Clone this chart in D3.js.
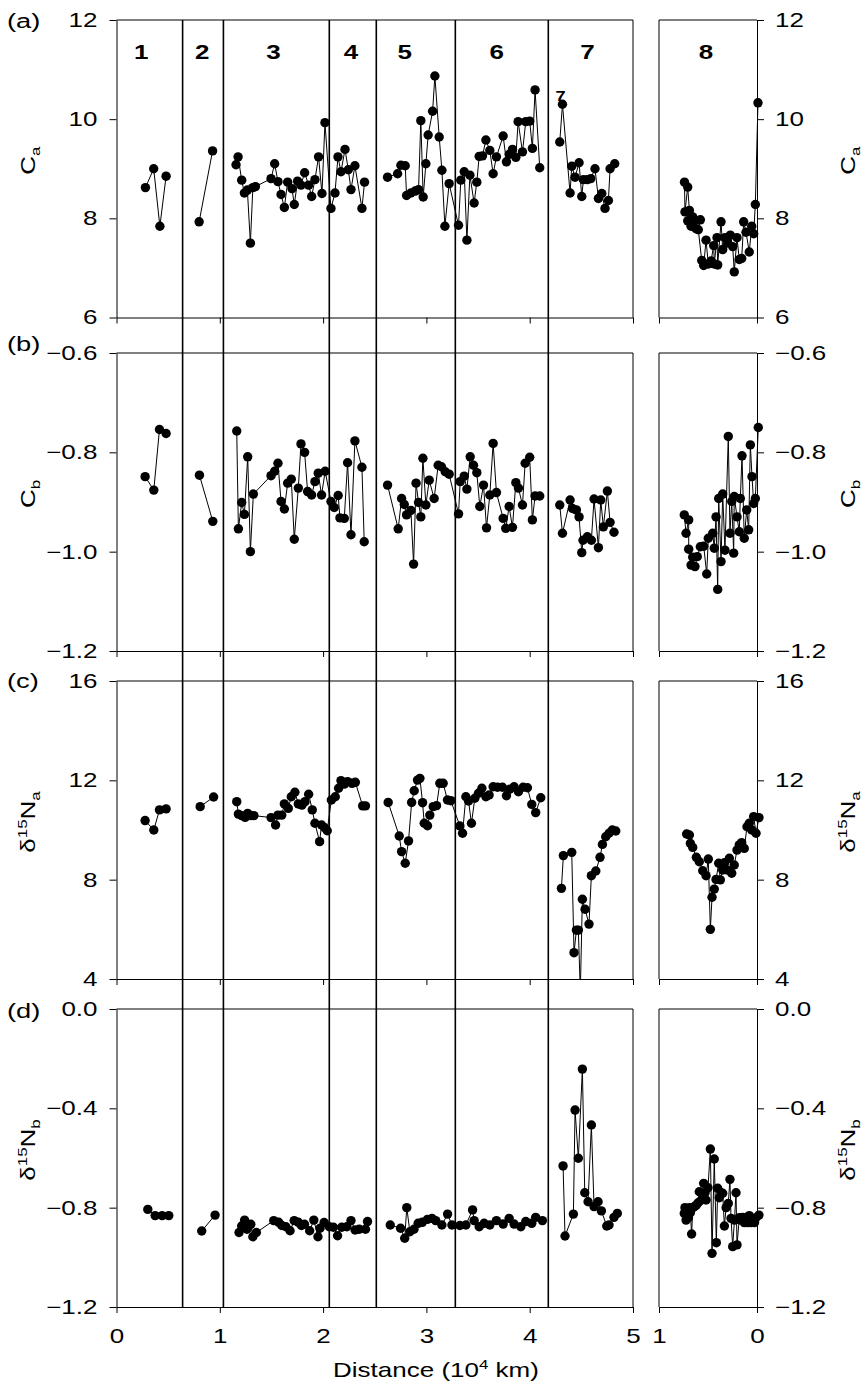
<!DOCTYPE html>
<html>
<head>
<meta charset="utf-8">
<script src="https://cdn.jsdelivr.net/npm/d3@7"></script>
<style>
  body { margin: 0; background: #fff; }
  text { font-family: "Liberation Sans", Arial, sans-serif; fill: #000; }
</style>
</head>
<body>
<div id="chart"></div>
<script>
/* DATA */

const xTicks = [0, 1, 2, 3, 4, 5];
const eastTicks = [1, 0];
// region boundaries along the transect (10^4 km)
const boundaries = [0.64, 1.035, 2.06, 2.515, 3.28, 4.18];
const regionNames = ["1", "2", "3", "4", "5", "6", "7"];
const regionLabelX = [0.24, 0.83, 1.52, 2.27, 2.79, 3.68, 4.56];
const eastRegionName = "8";
const eastRegionLabelX = 0.52;

const caTicks = [6, 8, 10, 12];
const cbTicks = [-1.2, -1.0, -0.8, -0.6];
const naTicks = [4, 8, 12, 16];
const nbTicks = [-1.2, -0.8, -0.4, 0.0];

// (a) Ca, one array per unbroken run of stations
const caRuns = [
  [[0.28, 8.62], [0.36, 9.00], [0.42, 7.84], [0.48, 8.85]],
  [[0.80, 7.93], [0.93, 9.36]],
  [[1.157, 9.08], [1.177, 9.24], [1.212, 8.77], [1.238, 8.51], [1.267, 8.57], [1.296, 7.50], [1.32, 8.62], [1.345, 8.64],
   [1.496, 8.80], [1.531, 9.10], [1.563, 8.74], [1.593, 8.48], [1.625, 8.22], [1.657, 8.73], [1.699, 8.60], [1.721, 8.28],
   [1.753, 8.75], [1.786, 8.67], [1.821, 8.92], [1.86, 8.67], [1.889, 8.44], [1.921, 8.78], [1.956, 9.24], [1.989, 8.50],
   [2.018, 9.93], [2.076, 8.20], [2.115, 8.51], [2.144, 9.24], [2.173, 8.94], [2.212, 9.39], [2.244, 8.98], [2.27, 8.58],
   [2.308, 9.06], [2.376, 8.20], [2.401, 8.73]],
  [[2.624, 8.83], [2.721, 8.90], [2.753, 9.07], [2.795, 9.06], [2.808, 8.46], [2.85, 8.51], [2.892, 8.55], [2.924, 8.58],
   [2.946, 9.97], [2.969, 8.43], [2.995, 9.10], [3.017, 9.68], [3.06, 10.16], [3.082, 10.87], [3.124, 9.64], [3.15, 8.97],
   [3.179, 7.84], [3.22, 8.70], [3.311, 7.86], [3.333, 8.77], [3.366, 8.94], [3.392, 7.56], [3.421, 8.87], [3.462, 8.31],
   [3.488, 8.73], [3.511, 9.25], [3.543, 9.26], [3.576, 9.58], [3.614, 9.37], [3.646, 8.90], [3.678, 9.24], [3.743, 9.66],
   [3.775, 9.14], [3.801, 9.29], [3.833, 9.39], [3.866, 9.23], [3.888, 9.95], [3.93, 9.34], [3.962, 9.95], [4.0, 9.96],
   [4.026, 9.41], [4.052, 10.59], [4.097, 9.02]],
  [[4.291, 9.54], [4.317, 10.30], [4.391, 8.51], [4.407, 9.05], [4.439, 8.83], [4.478, 9.12], [4.504, 8.44], [4.52, 8.78],
   [4.558, 8.78], [4.591, 8.80], [4.632, 9.00], [4.665, 8.40], [4.698, 8.50], [4.729, 8.20], [4.762, 8.36], [4.778, 9.00],
   [4.823, 9.10]]
];
const caEast = [
  [0.74, 8.73], [0.735, 8.13], [0.707, 8.63], [0.69, 8.16], [0.707, 7.95], [0.656, 8.03], [0.673, 7.84], [0.633, 7.96],
  [0.622, 7.79], [0.578, 7.97], [0.599, 7.77], [0.564, 7.15], [0.544, 7.05], [0.52, 7.56], [0.497, 7.08], [0.469, 7.14],
  [0.442, 7.45], [0.436, 7.08], [0.408, 7.61], [0.401, 7.06], [0.367, 7.93], [0.35, 7.37], [0.327, 7.61], [0.299, 7.50],
  [0.272, 7.66], [0.248, 7.43], [0.232, 6.92], [0.204, 7.61], [0.181, 7.17], [0.156, 7.19], [0.136, 7.93], [0.112, 7.72],
  [0.079, 7.32], [0.054, 7.84], [0.034, 7.69], [0.017, 8.28], [-0.01, 10.33]
];

// (b) Cb
const cbRuns = [
  [[0.277, -0.849], [0.361, -0.876], [0.416, -0.754], [0.48, -0.762]],
  [[0.803, -0.846], [0.932, -0.939]],
  [[1.164, -0.757], [1.18, -0.954], [1.212, -0.901], [1.238, -0.925], [1.27, -0.809], [1.296, -1.0], [1.325, -0.884],
   [1.496, -0.847], [1.531, -0.838], [1.563, -0.822], [1.593, -0.899], [1.625, -0.914], [1.657, -0.862], [1.692, -0.854],
   [1.721, -0.975], [1.76, -0.872], [1.786, -0.783], [1.821, -0.80], [1.85, -0.879], [1.889, -0.886], [1.921, -0.859],
   [1.953, -0.842], [1.985, -0.886], [2.02, -0.838], [2.076, -0.899], [2.108, -0.911], [2.146, -0.887], [2.163, -0.932],
   [2.205, -0.933], [2.237, -0.821], [2.27, -0.966], [2.308, -0.777], [2.376, -0.83], [2.398, -0.98]],
  [[2.624, -0.866], [2.727, -0.954], [2.76, -0.893], [2.786, -0.905], [2.808, -0.926], [2.85, -0.917], [2.876, -1.025],
   [2.9, -0.862], [2.924, -0.901], [2.946, -0.93], [2.966, -0.812], [2.995, -0.906], [3.027, -0.856], [3.075, -0.893],
   [3.114, -0.826], [3.146, -0.829], [3.182, -0.839], [3.22, -0.844], [3.311, -0.924], [3.327, -0.859], [3.366, -0.848],
   [3.392, -0.874], [3.424, -0.809], [3.456, -0.826], [3.488, -0.841], [3.517, -0.909], [3.553, -0.866], [3.582, -0.952],
   [3.614, -0.886], [3.646, -0.782], [3.678, -0.881], [3.743, -0.933], [3.768, -0.953], [3.801, -0.909], [3.833, -0.951],
   [3.866, -0.861], [3.891, -0.872], [3.93, -0.906], [3.956, -0.822], [4.0, -0.81], [4.026, -0.936], [4.052, -0.888],
   [4.097, -0.888]],
  [[4.291, -0.906], [4.317, -0.963], [4.391, -0.896], [4.414, -0.913], [4.452, -0.916], [4.478, -0.93], [4.504, -1.002],
   [4.516, -0.977], [4.558, -0.97], [4.597, -0.977], [4.623, -0.894], [4.665, -0.992], [4.688, -0.896], [4.713, -0.95],
   [4.752, -0.878], [4.778, -0.941], [4.816, -0.961]]
];
const cbEast = [
  [0.742, -0.926], [0.724, -0.963], [0.697, -0.936], [0.697, -0.995], [0.673, -1.027], [0.656, -1.011], [0.633, -1.03],
  [0.61, -1.01], [0.578, -0.99], [0.544, -0.989], [0.513, -1.045], [0.497, -0.973], [0.452, -0.963], [0.436, -0.993],
  [0.418, -0.93], [0.401, -1.076], [0.391, -0.893], [0.367, -1.02], [0.35, -0.884], [0.327, -0.997], [0.293, -0.768],
  [0.276, -0.963], [0.258, -0.899], [0.238, -1.003], [0.232, -0.889], [0.204, -0.93], [0.181, -0.96], [0.17, -0.893],
  [0.153, -0.807], [0.13, -0.973], [0.105, -0.916], [0.085, -0.956], [0.068, -0.785], [0.051, -0.849], [0.034, -0.903],
  [0.017, -0.893], [-0.013, -0.75]
];

// (c) d15Na
const naRuns = [
  [[0.277, 10.38], [0.361, 10.0], [0.416, 10.81], [0.48, 10.85]],
  [[0.81, 10.94], [0.94, 11.33]],
  [[1.164, 11.14], [1.18, 10.64], [1.212, 10.58], [1.245, 10.51], [1.27, 10.67], [1.30, 10.58], [1.33, 10.58], [1.496, 10.50],
   [1.54, 10.20], [1.563, 10.60], [1.60, 10.60], [1.625, 11.05], [1.663, 10.87], [1.692, 11.34], [1.727, 11.52], [1.76, 11.05],
   [1.795, 11.0], [1.825, 11.14], [1.86, 11.44], [1.895, 10.81], [1.921, 10.27], [1.966, 9.53], [1.985, 10.20], [2.015, 10.09],
   [2.04, 9.97], [2.08, 11.21], [2.118, 11.34], [2.15, 11.68], [2.173, 11.99], [2.205, 11.85], [2.237, 11.95], [2.28, 11.88],
   [2.312, 11.92], [2.383, 10.97], [2.41, 10.97]],
  [[2.63, 11.11], [2.737, 9.76], [2.76, 9.13], [2.795, 8.66], [2.827, 9.56], [2.857, 11.11], [2.882, 11.58], [2.914, 12.01],
   [2.937, 12.08], [2.963, 11.10], [2.979, 10.27], [3.011, 10.17], [3.033, 10.6], [3.066, 10.94], [3.098, 10.98], [3.13, 11.88],
   [3.162, 11.88], [3.204, 11.21], [3.237, 11.18], [3.324, 10.16], [3.35, 9.87], [3.382, 11.34], [3.408, 11.17], [3.436, 10.27],
   [3.469, 11.28], [3.504, 11.48], [3.537, 11.68], [3.576, 11.34], [3.607, 11.41], [3.646, 11.74], [3.688, 11.72], [3.736, 11.72],
   [3.775, 11.38], [3.807, 11.64], [3.849, 11.74], [3.891, 11.54], [3.936, 11.72], [3.978, 11.70], [4.02, 11.03], [4.058, 10.70],
   [4.107, 11.30]],
  [[4.307, 7.65], [4.326, 8.97], [4.407, 9.10], [4.429, 5.06], [4.452, 5.97], [4.471, 5.97], [4.49, 3.5], [4.51, 7.21],
   [4.536, 6.81], [4.574, 6.21], [4.597, 8.16], [4.64, 8.35], [4.681, 8.9], [4.704, 9.42], [4.736, 9.73], [4.768, 9.87],
   [4.80, 10.0], [4.833, 9.96]]
];
const naEast = [
  [0.718, 9.84], [0.69, 9.80], [0.68, 9.46], [0.656, 9.30], [0.619, 8.90], [0.589, 8.72], [0.554, 8.36], [0.52, 8.16],
  [0.497, 8.83], [0.476, 6.0], [0.459, 7.29], [0.436, 7.62], [0.418, 8.01], [0.391, 8.66], [0.374, 7.99], [0.35, 8.39],
  [0.333, 8.68], [0.306, 8.39], [0.282, 8.86], [0.258, 8.26], [0.232, 8.59], [0.204, 9.19], [0.181, 9.40], [0.156, 9.49],
  [0.13, 9.26], [0.102, 10.13], [0.079, 10.27], [0.054, 10.0], [0.034, 10.54], [0.01, 9.87], [-0.02, 10.5]
];

// (d) d15Nb
const nbRuns = [
  [[0.303, -0.807], [0.374, -0.832], [0.442, -0.832], [0.506, -0.832]],
  [[0.825, -0.894], [0.954, -0.83]],
  [[1.186, -0.9], [1.212, -0.874], [1.24, -0.85], [1.263, -0.887], [1.3, -0.867], [1.32, -0.917], [1.354, -0.9],
   [1.522, -0.852], [1.57, -0.859], [1.6, -0.872], [1.64, -0.877], [1.68, -0.893], [1.72, -0.852], [1.76, -0.859],
   [1.79, -0.872], [1.82, -0.867], [1.87, -0.893], [1.91, -0.85], [1.95, -0.917], [1.97, -0.883], [2.01, -0.86],
   [2.06, -0.877], [2.1, -0.879], [2.14, -0.913], [2.18, -0.879], [2.23, -0.877], [2.27, -0.852], [2.31, -0.89],
   [2.35, -0.887], [2.41, -0.887], [2.43, -0.856]],
  [[2.65, -0.87], [2.75, -0.883], [2.79, -0.923], [2.81, -0.80], [2.84, -0.897], [2.88, -0.887], [2.92, -0.863],
   [2.96, -0.859], [3.01, -0.847], [3.054, -0.843], [3.09, -0.852], [3.15, -0.87], [3.205, -0.826], [3.247, -0.87],
   [3.324, -0.872], [3.382, -0.87], [3.447, -0.809], [3.462, -0.852], [3.511, -0.877], [3.559, -0.863], [3.614, -0.87],
   [3.678, -0.852], [3.743, -0.866], [3.801, -0.843], [3.849, -0.866], [3.914, -0.877], [3.962, -0.856], [4.02, -0.863],
   [4.058, -0.839], [4.123, -0.852]],
  [[4.323, -0.632], [4.342, -0.914], [4.423, -0.826], [4.439, -0.407], [4.471, -0.601], [4.51, -0.242], [4.533, -0.74],
   [4.565, -0.776], [4.597, -0.467], [4.623, -0.796], [4.662, -0.776], [4.694, -0.813], [4.746, -0.874], [4.768, -0.87],
   [4.816, -0.839], [4.848, -0.823]]
];
const nbEast = [
  [0.742, -0.823], [0.735, -0.80], [0.724, -0.85], [0.715, -0.815], [0.70, -0.84], [0.69, -0.80], [0.68, -0.82],
  [0.667, -0.906], [0.655, -0.80], [0.64, -0.796], [0.62, -0.79], [0.60, -0.78], [0.589, -0.736], [0.57, -0.77],
  [0.544, -0.702], [0.53, -0.74], [0.52, -0.769], [0.50, -0.72], [0.476, -0.564], [0.459, -0.984], [0.436, -0.604],
  [0.415, -0.941], [0.401, -0.722], [0.385, -0.76], [0.368, -0.74], [0.35, -0.742], [0.333, -0.874], [0.315, -0.80],
  [0.293, -0.783], [0.276, -0.686], [0.265, -0.843], [0.248, -0.957], [0.23, -0.85], [0.214, -0.74], [0.204, -0.95],
  [0.18, -0.84], [0.165, -0.85], [0.146, -0.839], [0.13, -0.86], [0.112, -0.847], [0.095, -0.86], [0.079, -0.832],
  [0.06, -0.86], [0.044, -0.846], [0.025, -0.86], [0.01, -0.84], [-0.02, -0.83]
];

/* LAYOUT */
const W = 863, H = 1387;
const SX = 1.3;      // the lettering in the figure is set wide
const R = 4.7;       // marker radius

const mainX = d3.scaleLinear().domain([0, 5]).range([116.5, 633]);
const eastX = d3.scaleLinear().domain([1, 0]).range([659, 757]);

const panels = [
  { tag: "(a)", tagY: 28,   top: 20,   bottom: 317.5, domain: [6, 12],     ticks: caTicks, fmt: d3.format("d"),   runs: caRuns, east: caEast, title: [["C"], ["a", "sub"]] },
  { tag: "(b)", tagY: 351,  top: 353,  bottom: 651,   domain: [-1.2, -0.6], ticks: cbTicks, fmt: d3.format(".1f"), runs: cbRuns, east: cbEast, title: [["C"], ["b", "sub"]] },
  { tag: "(c)", tagY: 688,  top: 681,  bottom: 979,   domain: [4, 16],     ticks: naTicks, fmt: d3.format("d"),   runs: naRuns, east: naEast, title: [["δ"], ["15", "sup"], ["N"], ["a", "sub"]] },
  { tag: "(d)", tagY: 1018, top: 1009, bottom: 1307,  domain: [-1.2, 0],   ticks: nbTicks, fmt: d3.format(".1f"), runs: nbRuns, east: nbEast, title: [["δ"], ["15", "sup"], ["N"], ["b", "sub"]] }
];

const svg = d3.select("#chart").append("svg")
  .attr("width", W).attr("height", H)
  .attr("viewBox", `0 0 ${W} ${H}`);
const defs = svg.append("defs");

// stretch a text element horizontally while keeping its anchor where it was
function widen(sel) {
  sel.each(function () {
    const t = d3.select(this);
    const x = +t.attr("x") || 0;
    t.attr("x", x / SX).attr("transform", `scale(${SX},1)`);
  });
}

function addText(parent, x, y, str, size, opts = {}) {
  const t = parent.append("text")
    .attr("x", x).attr("y", y)
    .attr("font-size", size)
    .attr("text-anchor", opts.anchor || "start")
    .attr("font-weight", opts.bold ? "bold" : null)
    .text(str);
  widen(t);
  return t;
}

// rotated axis title with sub/superscripts
function axisTitle(parent, x, y, parts) {
  const g = parent.append("g").attr("transform", `translate(${x},${y}) rotate(-90)`);
  const t = g.append("text").attr("font-size", 20).attr("text-anchor", "middle")
    .attr("transform", `scale(${SX},1)`);
  let shift = 0;
  parts.forEach(([s, kind]) => {
    const sp = t.append("tspan").text(s);
    let target = 0;
    if (kind === "sub") target = 5;
    if (kind === "sup") target = -8;
    sp.attr("dy", target - shift);
    if (kind) sp.attr("font-size", 13);
    shift = target;
  });
}

const line = d3.line();

panels.forEach((p, i) => {
  const y = d3.scaleLinear().domain(p.domain).range([p.bottom, p.top]);
  const g = svg.append("g").attr("class", "panel");
  const isLast = i === panels.length - 1;

  // panel tag
  addText(g, 7, p.tagY, p.tag, 21);

  // frames
  const frame = g.append("g").attr("stroke", "#000").attr("stroke-width", 1).attr("fill", "none");
  frame.append("line").attr("x1", mainX(0)).attr("x2", mainX(5)).attr("y1", p.top).attr("y2", p.top);
  frame.append("line").attr("x1", mainX(5)).attr("x2", mainX(5)).attr("y1", p.top).attr("y2", p.bottom);
  frame.append("line").attr("x1", eastX(1)).attr("x2", eastX(0)).attr("y1", p.top).attr("y2", p.top);
  frame.append("line").attr("x1", eastX(1)).attr("x2", eastX(1)).attr("y1", p.top).attr("y2", p.bottom);

  // axes
  const left = g.append("g").attr("transform", `translate(${mainX(0)},0)`)
    .call(d3.axisLeft(y).tickValues(p.ticks).tickFormat(p.fmt).tickSize(7).tickPadding(12).tickSizeOuter(0));
  const right = g.append("g").attr("transform", `translate(${eastX(0)},0)`)
    .call(d3.axisRight(y).tickValues(p.ticks).tickFormat(p.fmt).tickSize(7).tickPadding(11).tickSizeOuter(0));
  const bottom = g.append("g").attr("transform", `translate(0,${p.bottom})`)
    .call(d3.axisBottom(mainX).tickValues(xTicks).tickSize(6).tickPadding(16).tickSizeOuter(0)
      .tickFormat(isLast ? d3.format("d") : ""));
  const bottomEast = g.append("g").attr("transform", `translate(0,${p.bottom})`)
    .call(d3.axisBottom(eastX).tickValues(eastTicks).tickSize(6).tickPadding(16).tickSizeOuter(0)
      .tickFormat(isLast ? d3.format("d") : ""));

  [left, right, bottom, bottomEast].forEach(a => {
    a.attr("font-family", null).attr("font-size", 20);
    a.selectAll("path, line").attr("stroke", "#000").attr("stroke-width", 1);
    a.selectAll("text").attr("fill", "#000").call(widen);
  });

  // axis titles
  const mid = (p.top + p.bottom) / 2 - 8;
  axisTitle(g, 35, mid, p.title);
  axisTitle(g, 855, mid, p.title);

  // clip marks to the vertical limits of the panel
  const clipId = "clip" + i;
  defs.append("clipPath").attr("id", clipId)
    .append("rect").attr("x", 0).attr("width", W)
    .attr("y", p.top).attr("height", p.bottom - p.top);

  const marks = g.append("g").attr("clip-path", `url(#${clipId})`);

  if (i === 0) {
    // stray bold "7" printed at the top of region 7 in panel (a)
    addText(g, mainX(4.3), y(10.36), "7", 14, { anchor: "middle", bold: true });
  }

  p.runs.forEach(run => {
    marks.append("path")
      .attr("d", line(run.map(d => [mainX(d[0]), y(d[1])])))
      .attr("fill", "none").attr("stroke", "#000").attr("stroke-width", 1);
  });
  marks.selectAll("circle.main")
    .data(p.runs.flat())
    .join("circle")
    .attr("class", "main")
    .attr("cx", d => mainX(d[0]))
    .attr("cy", d => y(d[1]))
    .attr("r", R)
    .attr("fill", "#000");

  marks.append("path")
    .attr("d", line(p.east.map(d => [eastX(d[0]), y(d[1])])))
    .attr("fill", "none").attr("stroke", "#000").attr("stroke-width", 1);
  marks.selectAll("circle.east")
    .data(p.east)
    .join("circle")
    .attr("class", "east")
    .attr("cx", d => eastX(d[0]))
    .attr("cy", d => y(d[1]))
    .attr("r", R)
    .attr("fill", "#000");
});

// region boundaries run through all four panels
svg.append("g")
  .selectAll("line")
  .data(boundaries)
  .join("line")
  .attr("x1", d => mainX(d)).attr("x2", d => mainX(d))
  .attr("y1", panels[0].top).attr("y2", panels[3].bottom)
  .attr("stroke", "#000").attr("stroke-width", 1.6);

// region numbers
const labels = svg.append("g");
regionNames.forEach((n, i) => addText(labels, mainX(regionLabelX[i]), 59, n, 20, { anchor: "middle", bold: true }));
addText(labels, eastX(eastRegionLabelX), 59, eastRegionName, 20, { anchor: "middle", bold: true });

// x title
const xt = svg.append("text")
  .attr("x", 436).attr("y", 1377)
  .attr("font-size", 20).attr("text-anchor", "middle");
xt.append("tspan").text("Distance (10");
xt.append("tspan").text("4").attr("font-size", 13).attr("dy", -8);
xt.append("tspan").text(" km)").attr("dy", 8);
widen(xt);
</script>
</body>
</html>
